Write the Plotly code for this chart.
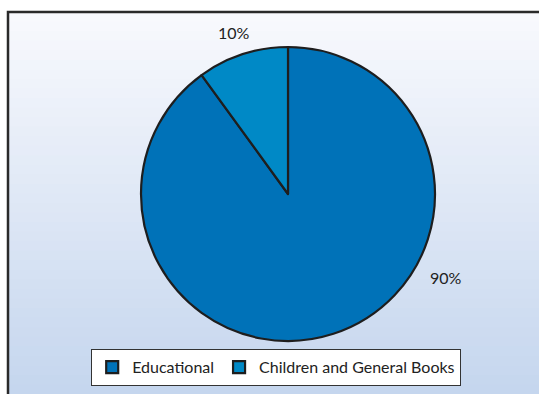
import plotly.graph_objects as go

categories = ["Educational", "Children and General Books"]
values = [90, 10]
label_text = ["90%", "10%"]
colors = ["#0072b8", "#0089c6"]

W, H = 539, 394
fig = go.Figure()

fig.add_trace(go.Pie(
    labels=categories, values=values, sort=False, direction="clockwise",
    rotation=0, textinfo="none", hoverinfo="label+percent",
    marker=dict(colors=colors, line=dict(color="#1e1e1e", width=2.2)),
    domain=dict(x=[(288-147)/W, (288+147)/W], y=[(200-147)/H, (200+147)/H]),
))

# gradient background inside the frame (overlapping bands to avoid seams)
shapes = []
top_y, bot_y = H - 12, 0
n = 40
c0 = (248, 249, 253)
c1 = (197, 214, 238)
for i in range(n):
    t = i / (n - 1)
    col = tuple(round(c0[k] + (c1[k] - c0[k]) * t) for k in range(3))
    y_hi = top_y - (top_y - bot_y) * i / n
    y_lo = top_y - (top_y - bot_y) * (i + 1) / n - 2
    shapes.append(dict(type="rect", xref="paper", yref="paper", layer="below",
                       x0=8 / W, x1=1.02, y0=y_lo / H, y1=y_hi / H,
                       fillcolor="rgb(%d,%d,%d)" % col, line=dict(width=0)))
shapes.append(dict(type="rect", xref="paper", yref="paper", layer="below",
                   x0=8 / W, x1=1.05, y0=-0.05, y1=(H - 12) / H,
                   line=dict(color="#2a2a2a", width=2.5), fillcolor="rgba(0,0,0,0)"))

annotations = [
    dict(text=label_text[1], x=234 / W, y=(H - 32) / H, xref="paper", yref="paper",
         xanchor="center", yanchor="middle",
         showarrow=False, font=dict(size=16, color="#222")),
    dict(text=label_text[0], x=446 / W, y=(H - 277) / H, xref="paper", yref="paper",
         xanchor="center", yanchor="middle",
         showarrow=False, font=dict(size=16, color="#222")),
]

fig.update_layout(
    width=W, height=H, margin=dict(l=0, r=0, t=0, b=0),
    paper_bgcolor="white", plot_bgcolor="white",
    shapes=shapes, annotations=annotations,
    font=dict(family="Lato, Open Sans, sans-serif", size=16, color="#222"),
    showlegend=True,
    legend=dict(orientation="h", x=276 / W, xanchor="center", y=(H - 349) / H, yanchor="top",
                bgcolor="white", bordercolor="#333", borderwidth=1.2,
                font=dict(size=16), itemwidth=30, traceorder="normal"),
)

fig.write_html("out.html", config={"displayModeBar": False},
               post_script="document.body.style.margin='0';document.body.style.overflow='hidden';")
